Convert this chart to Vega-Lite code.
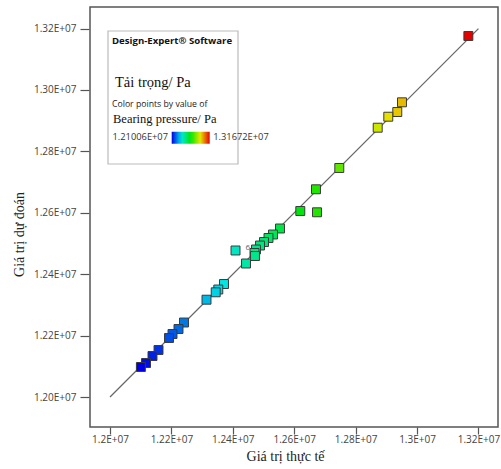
{
  "$schema": "https://vega.github.io/schema/vega-lite/v6.json",
  "width": 408,
  "height": 420,
  "autosize": {"type": "none"},
  "padding": {"left": 90, "top": 7, "right": 3, "bottom": 42},
  "background": "white",
  "config": {
    "view": {"stroke": "#555", "strokeWidth": 1.5},
    "axis": {
      "domain": false, "grid": false, "tickColor": "#555", "tickWidth": 1.2,
      "labelFont": "Open Sans", "labelFontSize": 10, "labelColor": "#444",
      "titleFont": "Liberation Serif", "titleFontSize": 14, "titleFontWeight": "normal", "titleColor": "#222"
    }
  },
  "datasets": {
    "runs": [
      {"actual": 13167200, "predicted": 13175800},
      {"actual": 12951000, "predicted": 12959800},
      {"actual": 12935700, "predicted": 12928200},
      {"actual": 12906400, "predicted": 12912900},
      {"actual": 12871900, "predicted": 12877100},
      {"actual": 12746800, "predicted": 12745900},
      {"actual": 12670900, "predicted": 12676500},
      {"actual": 12619800, "predicted": 12605800},
      {"actual": 12674200, "predicted": 12601600},
      {"actual": 12553700, "predicted": 12548800},
      {"actual": 12530900, "predicted": 12529300},
      {"actual": 12516200, "predicted": 12517900},
      {"actual": 12501600, "predicted": 12504800},
      {"actual": 12488600, "predicted": 12493400},
      {"actual": 12475500, "predicted": 12480400},
      {"actual": 12470600, "predicted": 12469000},
      {"actual": 12472300, "predicted": 12459200},
      {"actual": 12443000, "predicted": 12434800},
      {"actual": 12408800, "predicted": 12477200, "label": "6"},
      {"actual": 12371300, "predicted": 12368000},
      {"actual": 12352700, "predicted": 12350100},
      {"actual": 12344300, "predicted": 12341000},
      {"actual": 12314300, "predicted": 12316900},
      {"actual": 12241000, "predicted": 12242600},
      {"actual": 12223100, "predicted": 12221500},
      {"actual": 12203600, "predicted": 12205200},
      {"actual": 12192200, "predicted": 12192200},
      {"actual": 12158000, "predicted": 12153100},
      {"actual": 12138400, "predicted": 12133500},
      {"actual": 12117300, "predicted": 12110700},
      {"actual": 12100600, "predicted": 12097700}
    ]
  },
  "layer": [
    {
      "data": {"values": [{}]},
      "mark": {"type": "rect", "fill": "white", "stroke": "#bbb", "strokeWidth": 1.2},
      "encoding": {
        "x": {"datum": 11993500, "type": "quantitative"},
        "x2": {"datum": 12416900},
        "y": {"datum": 13192100, "type": "quantitative"},
        "y2": {"datum": 12758900}
      }
    },
    {
      "data": {"values": [{}]},
      "mark": {"type": "rule", "color": "#666", "strokeWidth": 1.2},
      "encoding": {
        "x": {"datum": 12000000, "type": "quantitative"},
        "x2": {"datum": 13200000},
        "y": {"datum": 12000000, "type": "quantitative"},
        "y2": {"datum": 13200000}
      }
    },
    {
      "data": {"name": "runs"},
      "mark": {"type": "square", "size": 80, "filled": true, "opacity": 1, "stroke": "#3a3a3a", "strokeWidth": 1},
      "encoding": {
        "x": {
          "field": "actual", "type": "quantitative",
          "scale": {"domain": [11934860, 13263716], "nice": false, "zero": false},
          "axis": {
            "values": [12000000, 12200000, 12400000, 12600000, 12800000, 13000000, 13200000],
            "labelExpr": "replace(upper(format(datum.value, '.3~e')), 'E+', 'E+0')",
            "tickSize": 7, "labelPadding": 0,
            "title": "Giá trị thực tế", "titleX": 195, "titleY": 29, "titleBaseline": "middle"
          }
        },
        "y": {
          "field": "predicted", "type": "quantitative",
          "scale": {"domain": [11902290, 13270230], "nice": false, "zero": false},
          "axis": {
            "values": [12000000, 12200000, 12400000, 12600000, 12800000, 13000000, 13200000],
            "labelExpr": "replace(upper(format(datum.value, '.2e')), 'E+', 'E+0')",
            "tickSize": 9, "offset": 1, "labelPadding": 4,
            "title": "Giá trị dự đoán", "titleX": -70, "titleY": 227, "titleBaseline": "middle"
          }
        },
        "color": {
          "field": "actual", "type": "quantitative",
          "scale": {"domain": [12100600, 13167200], "range": ["hsl(240,100%,45%)", "hsl(0,100%,45%)"], "interpolate": "hsl-long"},
          "legend": {
            "orient": "none", "legendX": 81.7, "legendY": 124.7, "direction": "horizontal",
            "title": null, "padding": 0, "gradientLength": 38, "gradientThickness": 12, "gradientStrokeWidth": 0,
            "values": [12100600, 13167200], "labelOverlap": false,
            "labelExpr": "''"
          }
        }
      }
    },
    {
      "data": {"name": "runs"},
      "transform": [{"filter": "datum.label"}],
      "mark": {"type": "text", "dx": 10, "dy": -2, "align": "left", "fontSize": 8, "font": "Open Sans", "color": "#666"},
      "encoding": {
        "x": {"field": "actual", "type": "quantitative"},
        "y": {"field": "predicted", "type": "quantitative"},
        "text": {"field": "label"}
      }
    },
    {
      "data": {"values": [{}]},
      "mark": {"type": "text", "text": "Design-Expert® Software", "align": "left", "baseline": "middle", "font": "Open Sans", "fontWeight": "bold", "fontSize": 9.6, "color": "#111"},
      "encoding": {"x": {"datum": 12006500, "type": "quantitative"}, "y": {"datum": 13160500, "type": "quantitative"}}
    },
    {
      "data": {"values": [{}]},
      "mark": {"type": "text", "text": "Tải trọng/ Pa", "align": "left", "baseline": "middle", "font": "Liberation Serif", "fontSize": 14.5, "color": "#111"},
      "encoding": {"x": {"datum": 12016300, "type": "quantitative"}, "y": {"datum": 13021700, "type": "quantitative"}}
    },
    {
      "data": {"values": [{}]},
      "mark": {"type": "text", "text": "Color points by value of", "align": "left", "baseline": "middle", "font": "Open Sans", "fontSize": 8.7, "color": "#222"},
      "encoding": {"x": {"datum": 12006500, "type": "quantitative"}, "y": {"datum": 12953300, "type": "quantitative"}}
    },
    {
      "data": {"values": [{}]},
      "mark": {"type": "text", "text": "Bearing pressure/ Pa", "align": "left", "baseline": "middle", "font": "Liberation Serif", "fontSize": 12.5, "color": "#111"},
      "encoding": {"x": {"datum": 12009800, "type": "quantitative"}, "y": {"datum": 12904500, "type": "quantitative"}}
    },
    {
      "data": {"values": [{}]},
      "mark": {"type": "text", "text": "1.21006E+07", "align": "right", "baseline": "middle", "font": "Open Sans", "fontSize": 9.3, "color": "#333"},
      "encoding": {"x": {"datum": 12188900, "type": "quantitative"}, "y": {"datum": 12845200, "type": "quantitative"}}
    },
    {
      "data": {"values": [{}]},
      "mark": {"type": "text", "text": "1.31672E+07", "align": "left", "baseline": "middle", "font": "Open Sans", "fontSize": 9.3, "color": "#333"},
      "encoding": {"x": {"datum": 12336400, "type": "quantitative"}, "y": {"datum": 12845200, "type": "quantitative"}}
    }
  ]
}
